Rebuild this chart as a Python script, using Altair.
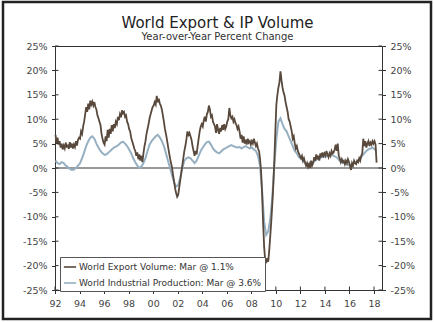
import altair as alt
import pandas as pd

# ---------------- data ----------------
series_names = ["World Export Volume: Mar @ 1.1%",
                "World Industrial Production: Mar @ 3.6%"]
series_colors = ["#58493c", "#96b0c2"]

export_start = 1992  # monthly, Jan 1992 .. Mar 2018
export_values = [
    6.8, 5.0, 6.2, 4.8, 5.5, 4.2, 5.0, 3.8, 4.6, 4.0, 5.2, 4.4,      # 1992
    4.6, 3.9, 5.3, 4.2, 5.0, 4.0, 4.8, 4.3, 5.5, 4.6, 5.8, 6.2,      # 1993
    6.0, 7.5, 7.0, 8.5, 9.5, 11.0, 12.5, 11.5, 13.2, 12.0, 13.8, 13.0,  # 1994
    13.6, 12.8, 13.5, 12.5, 12.0, 10.8, 10.2, 9.5, 8.8, 7.0, 6.0, 5.2,  # 1995
    4.8, 6.5, 5.5, 7.8, 6.2, 8.0, 7.0, 8.8, 7.5, 9.0, 8.2, 9.5,      # 1996
    9.0, 10.5, 9.8, 11.0, 10.4, 11.8, 11.2, 11.5, 10.5, 10.8, 9.5, 9.0,  # 1997
    8.0, 7.5, 6.2, 5.5, 4.8, 4.0, 3.5, 2.5, 3.2, 1.8, 2.8, 1.5,      # 1998
    2.5, 1.2, 3.0, 4.5, 5.5, 7.0, 8.0, 9.0, 10.2, 11.0, 11.8, 12.5,  # 1999
    12.8, 13.5, 13.0, 14.8, 13.5, 14.2, 13.2, 12.8, 12.0, 10.8, 9.5, 8.0,  # 2000
    7.0, 5.8, 4.5, 3.2, 2.0, 1.0, 0.0, -1.5, -2.8, -4.2, -5.2, -5.9,  # 2001
    -5.5, -4.0, -2.5, -1.0, 0.5, 2.0, 3.5, 4.5, 5.8, 7.5, 6.8, 7.2,  # 2002
    6.5, 5.8, 4.5, 3.5, 2.5, 3.5, 2.8, 4.5, 6.0, 7.5, 8.5, 9.0,      # 2003
    8.5, 9.8, 10.5, 9.5, 11.0, 11.5, 12.8, 12.0, 10.5, 10.8, 9.5, 9.0,  # 2004
    8.5, 7.2, 9.0, 7.8, 7.0, 8.2, 7.5, 8.8, 7.8, 9.0, 8.0, 8.5,      # 2005
    9.5, 10.0, 12.3, 10.8, 10.2, 10.5, 9.5, 10.0, 9.2, 8.8, 8.0, 8.5,  # 2006
    7.5, 6.0, 6.8, 5.2, 6.5, 5.0, 5.8, 4.8, 6.0, 5.2, 5.5, 4.8,      # 2007
    5.5, 5.0, 6.0, 5.2, 4.5, 5.0, 4.0, 3.5, 2.0, -0.5, -5.0, -11.0,  # 2008
    -16.0, -18.8, -19.5, -18.5, -19.2, -17.0, -14.0, -11.0, -7.5, -3.5, 1.5, 7.5,  # 2009
    13.0, 15.0, 16.5, 17.5, 19.8, 18.0, 16.5, 15.5, 14.8, 13.5, 12.5, 11.5,  # 2010
    10.0, 9.5, 8.5, 7.5, 6.0, 6.5, 5.0, 4.0, 4.5, 3.5, 3.0, 2.5,     # 2011
    2.0, 2.5, 1.5, 2.0, 1.2, 0.5, 1.0, 0.2, 0.8, 0.0, 1.5, 0.5,      # 2012
    1.0, 2.2, 1.5, 2.8, 1.8, 2.5, 1.5, 3.0, 2.2, 3.2, 2.5, 3.0,      # 2013
    2.5, 3.5, 2.8, 2.2, 3.0, 2.5, 3.5, 3.0, 3.2, 3.8, 4.8, 3.5,      # 2014
    5.0, 2.5, 2.0, 1.2, 1.8, 1.2, 1.5, 0.8, 1.5, 1.0, 1.8, 1.2,      # 2015
    0.5, -0.4, 1.0, 0.5, 1.5, 1.0, 0.8, 1.5, 1.2, 2.0, 1.5, 2.5,     # 2016
    3.0, 6.0, 4.5, 5.5, 4.2, 5.0, 5.5, 4.5, 5.2, 4.8, 5.5, 5.0,      # 2017
    5.5, 4.8, 1.1,                                                   # 2018
]

ip_start = 1992  # every second month (Jan, Mar, May, Jul, Sep, Nov)
ip_values = [
    1.5, 1.0, 0.8, 1.2, 1.0, 0.5,      # 1992
    0.2, -0.2, -0.4, -0.3, 0.0, 0.5,   # 1993
    1.0, 2.0, 3.2, 4.5, 5.5, 6.2,      # 1994
    6.5, 6.0, 5.0, 4.2, 3.5, 3.0,      # 1995
    2.7, 2.8, 3.2, 3.6, 4.0, 4.3,      # 1996
    4.5, 4.8, 5.2, 5.4, 5.0, 4.5,      # 1997
    3.8, 3.0, 2.0, 1.2, 0.5, 0.0,      # 1998
    0.3, 1.0, 2.0, 3.5, 4.8, 5.5,      # 1999
    6.0, 6.5, 6.8, 6.3, 5.5, 4.5,      # 2000
    3.0, 1.5, 0.0, -1.5, -3.0, -3.8,   # 2001
    -3.5, -2.0, 0.0, 1.5, 2.0, 2.2,    # 2002
    2.0, 1.5, 1.0, 1.5, 2.5, 3.5,      # 2003
    4.2, 4.8, 5.3, 5.4, 4.8, 4.0,      # 2004
    3.5, 3.2, 3.0, 3.4, 3.8, 4.0,      # 2005
    4.3, 4.5, 4.7, 4.5, 4.3, 4.2,      # 2006
    4.3, 4.0, 4.3, 4.5, 4.2, 4.0,      # 2007
    4.2, 3.8, 3.5, 2.5, 0.5, -4.5,     # 2008
    -11.0, -13.7, -13.0, -10.5, -6.0, 0.5,  # 2009
    6.0, 9.5, 10.2, 9.0, 8.0, 7.5,     # 2010
    6.5, 5.5, 4.5, 3.5, 3.0, 2.2,      # 2011
    2.0, 1.5, 1.0, 0.5, 0.8, 1.0,      # 2012
    1.2, 1.5, 1.8, 2.0, 2.2, 2.3,      # 2013
    2.3, 2.5, 2.6, 2.8, 2.5, 2.3,      # 2014
    2.0, 1.5, 1.2, 1.0, 0.8, 0.6,      # 2015
    0.5, 0.8, 1.0, 1.2, 1.5, 2.0,      # 2016
    2.5, 3.0, 3.5, 3.8, 4.0, 4.2,      # 2017
    3.8, 3.6,                          # 2018
]

x_ticks = list(range(1992, 2019, 2))
y_ticks = list(range(-25, 30, 5))
x_domain = [1992, 2018.65]
y_domain = [-25, 25]

title_text = "World Export & IP Volume"
subtitle_text = "Year-over-Year Percent Change"

# ---------------- tables ----------------
export_df = pd.DataFrame({
    "t": [export_start + (i + 0.5) / 12 for i in range(len(export_values))],
    "v": export_values,
    "s": series_names[0],
})
ip_df = pd.DataFrame({
    "t": [ip_start + (2 * i + 0.5) / 12 for i in range(len(ip_values))],
    "v": ip_values,
    "s": series_names[1],
})
yt_df = pd.DataFrame({"v": y_ticks})
xt_df = pd.DataFrame({"t": x_ticks})
zero_df = pd.DataFrame({"v": [0]})
one = alt.Data(values=[{}])

W, H = 327, 244
FONT = "DejaVu Sans"
AX = "#333333"
TICK_IN = 3.5

xs = alt.Scale(domain=x_domain, nice=False, zero=False)
ys = alt.Scale(domain=y_domain, nice=False, zero=False)

x_axis = alt.Axis(values=x_ticks, format="d", labelExpr="slice(datum.label, 2)",
                  title=None, grid=False, tickSize=TICK_IN, tickColor=AX,
                  domainColor=AX, labelFont=FONT, labelFontSize=9.5,
                  labelColor="#444444", labelPadding=5, labelFlush=False)
left_axis = alt.Axis(values=y_ticks, labelExpr="datum.value + '%'", title=None,
                     grid=False, orient="left", tickSize=TICK_IN, tickColor=AX,
                     domainColor=AX, labelFont=FONT, labelFontSize=9.5,
                     labelColor="#444444", labelPadding=4.5)
right_axis = alt.Axis(values=y_ticks, labelExpr="datum.value + '%'", title=None,
                      grid=False, orient="right", tickSize=TICK_IN, tickColor=AX,
                      domainColor=AX, labelFont=FONT, labelFontSize=9.5,
                      labelColor="#444444", labelPadding=4.5)

X = alt.X("t:Q", scale=xs, axis=x_axis)

color = alt.Color("s:N",
                  scale=alt.Scale(domain=series_names, range=series_colors),
                  sort=series_names,
                  legend=alt.Legend(orient="none", legendX=5, legendY=211,
                                    title=None, symbolType="stroke",
                                    symbolStrokeWidth=1.6, symbolSize=150,
                                    labelFont=FONT, labelFontSize=9,
                                    labelColor="#333333", labelLimit=400,
                                    padding=3, rowPadding=4, labelOffset=2,
                                    strokeColor="#555555", fillColor="white"))

ip_line = alt.Chart(ip_df).mark_line(strokeWidth=2).encode(
    x=X, y=alt.Y("v:Q", scale=ys, axis=left_axis), color=color)

export_line = alt.Chart(export_df).mark_line(strokeWidth=1.8).encode(
    x=X, y=alt.Y("v:Q", scale=ys, axis=None), color=color)

zero_rule = alt.Chart(zero_df).mark_rule(color=AX, strokeWidth=1).encode(
    y=alt.Y("v:Q", scale=ys, axis=right_axis))

left_in = alt.Chart(yt_df).mark_rule(color=AX).encode(
    y=alt.Y("v:Q", scale=ys, axis=None), x=alt.value(0), x2=alt.value(TICK_IN))
right_in = alt.Chart(yt_df).mark_rule(color=AX).encode(
    y=alt.Y("v:Q", scale=ys, axis=None), x=alt.value(W - TICK_IN), x2=alt.value(W))
bottom_in = alt.Chart(xt_df).mark_rule(color=AX).encode(
    x=alt.X("t:Q", scale=xs, axis=x_axis), y=alt.value(H - TICK_IN), y2=alt.value(H))

frame = alt.Chart(one).mark_rect(
    filled=False, stroke="#222222", strokeWidth=2.5).encode(
    x=alt.value(-52), x2=alt.value(376), y=alt.value(-44), y2=alt.value(273))

title_mark = alt.Chart(one).mark_text(
    text=title_text, font=FONT, fontSize=15, color="#222222",
    align="center", baseline="alphabetic").encode(
    x=alt.value(W / 2 - 1), y=alt.value(-18))
subtitle_mark = alt.Chart(one).mark_text(
    text=subtitle_text, font=FONT, fontSize=10, color="#333333",
    align="center", baseline="alphabetic").encode(
    x=alt.value(W / 2 - 1), y=alt.value(-6))

chart = alt.layer(
    zero_rule, ip_line, export_line, left_in, right_in, bottom_in, frame,
    title_mark, subtitle_mark
).resolve_axis(y="independent").properties(
    width=W, height=H,
    autosize=alt.AutoSizeParams(type="none"),
    padding={"left": 55, "top": 46, "right": 52, "bottom": 32},
    background="white",
).configure_view(stroke=AX, strokeWidth=1)

chart.save("out.html", embed_options={"renderer": "svg", "actions": False})
